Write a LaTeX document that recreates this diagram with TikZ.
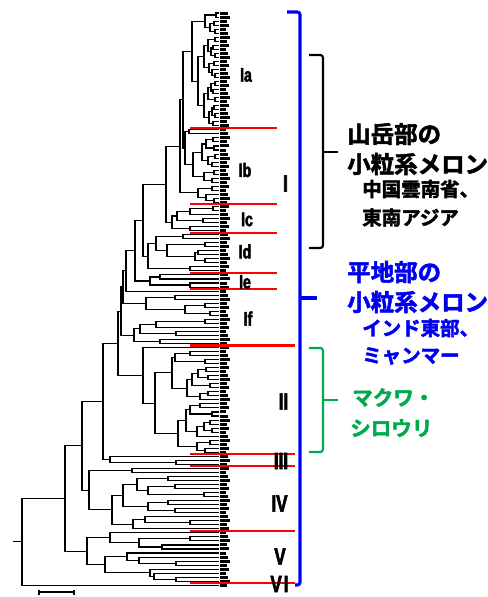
\documentclass[tikz,border=0pt]{standalone}
\usepackage{fontspec}
\usetikzlibrary{calc}
\newfontfamily\cjk{Noto Sans CJK JP}[BoldFont={Noto Sans CJK JP Bold}, BoldFeatures={FakeBold=2.2}]
\newfontfamily\romfont{Liberation Sans}[FakeStretch=0.72, BoldFeatures={FakeBold=2.5}]
\definecolor{grn}{RGB}{0,168,80}
\definecolor{blu}{RGB}{0,0,240}
\newcommand\dnode[4]{%
  \path let \p1=(#3), \p2=(#4) in ({#2*0.75pt},{0.5*\y1+0.5*\y2}) coordinate (#1);
  \draw[br] (#1) |- (#3);
  \draw[br] (#1) |- (#4);}
\tikzset{
  br/.style={line width=0.8pt, black},
  redline/.style={red, line width=1.6pt},
  roman/.style={font=\romfont\bfseries\fontsize{14.6}{15}\selectfont, inner sep=0pt},
  romanL/.style={font=\romfont\bfseries\fontsize{17.8}{18}\selectfont, inner sep=0pt},
  jpbig/.style={font=\cjk\bfseries\fontsize{17.6}{18}\selectfont, anchor=west, inner sep=0pt},
  jpsmall/.style={font=\cjk\bfseries\fontsize{14.6}{15}\selectfont, anchor=west, inner sep=0pt},
  jpgreen/.style={font=\cjk\bfseries\fontsize{15.4}{16}\selectfont, anchor=west, inner sep=0pt, text=grn},
  bracket/.style={line width=1.6pt, rounded corners=2pt},
}
\begin{document}
\begin{tikzpicture}[x=0.75pt,y=-0.75pt]
\useasboundingbox (0,0) rectangle (488,597);
% leaves
\foreach \i in {1,...,143}{
  \coordinate (L\i) at (219,{13+4.03*(\i-1)});
  \pgfmathsetmacro\w{6+mod(\i*7,5)}
  \fill ($(L\i)+(1,-1.5)$) rectangle ++(\w,3);
}
% ---- Ia
\dnode{a1}{216}{L1}{L2}
\dnode{a2a}{214}{L3}{L4}
\dnode{a2b}{215}{L5}{L6}
\dnode{a2}{210}{a2a}{a2b}
\dnode{a3}{205}{a1}{a2}
\dnode{b7}{215}{L7}{L8}
\dnode{b8}{213}{L9}{L10}
\dnode{b9}{215}{L11}{L12}
\dnode{b10}{211}{b8}{b9}
\dnode{c47}{208}{b7}{b10}
\dnode{b11}{214}{L13}{L14}
\dnode{b12}{215}{L16}{L17}
\dnode{b13}{212}{L15}{b12}
\dnode{c68}{209}{b11}{b13}
\dnode{n205a}{204}{c47}{c68}
\dnode{b14}{215}{L18}{L19}
\dnode{b15}{213}{L20}{L21}
\dnode{b16}{211}{b14}{b15}
\dnode{b17}{215}{L22}{L23}
\dnode{c90}{208}{b16}{b17}
\dnode{b18}{214}{L24}{L25}
\dnode{b19}{215}{L26}{L27}
\dnode{b20}{212}{b18}{b19}
\dnode{b21}{213}{L28}{L29}
\dnode{c118}{209}{b20}{b21}
\dnode{n205b}{204}{c90}{c118}
\dnode{n198}{198}{n205a}{n205b}
\dnode{Ia}{192}{a3}{n198}
% ---- Ib
\dnode{ib1}{189}{L30}{L31}
\dnode{ib2}{213}{L32}{L33}
\dnode{ib3}{214}{L34}{L35}
\dnode{ib4}{206}{ib2}{ib3}
\dnode{ib5}{215}{L36}{L37}
\dnode{ib6}{212}{L38}{L39}
\dnode{ib7}{208}{ib5}{ib6}
\dnode{ib8}{202}{ib4}{ib7}
\dnode{ib9}{214}{L40}{L41}
\dnode{ib10}{212}{L42}{L43}
\dnode{ib11}{204}{ib9}{ib10}
\dnode{ib12}{193}{ib8}{ib11}
\dnode{IbT}{185}{ib1}{ib12}
\dnode{ib13}{212}{L44}{L45}
\dnode{ib14}{214}{L47}{L48}
\dnode{ib15}{206}{L46}{ib14}
\dnode{IbB}{198}{ib13}{ib15}
\dnode{n183}{183}{Ia}{IbT}
\dnode{n180}{180}{n183}{IbB}
% ---- Ic
\dnode{ic1}{213}{L49}{L50}
\dnode{ic2}{190}{ic1}{L51}
\dnode{ic3}{203}{L52}{L53}
\dnode{ic4}{177}{ic2}{ic3}
\dnode{ic5}{190}{L54}{L55}
\dnode{Ic}{172}{ic4}{ic5}
\dnode{n170}{166}{n180}{Ic}
% ---- Id
\dnode{id1}{183}{L56}{L57}
\dnode{id2}{205}{L58}{L59}
\dnode{id3}{198}{L60}{L61}
\dnode{id4}{205}{L62}{L63}
\dnode{id5}{195}{id3}{id4}
\dnode{id6}{167}{id2}{id5}
\dnode{id7}{156}{id1}{id6}
\dnode{id8}{190}{L64}{L65}
\dnode{Id}{148}{id7}{id8}
\dnode{n155}{143}{n170}{Id}
% ---- Ie
\dnode{ie1}{160}{L66}{L67}
\dnode{ie2}{190}{L68}{L69}
\dnode{Ie}{150}{ie1}{ie2}
\dnode{n135}{135}{n155}{Ie}
% ---- If
\dnode{n126}{126}{n135}{L70}
\dnode{if1}{175}{L71}{L72}
\dnode{if2}{205}{L73}{L74}
\dnode{if3}{210}{L75}{L76}
\dnode{if4}{185}{if2}{if3}
\dnode{ifT}{146}{if1}{if4}
\dnode{n123}{123}{n126}{ifT}
\dnode{if5}{205}{L77}{L78}
\dnode{if6}{156}{if5}{L79}
\dnode{if7}{176}{L80}{L81}
\dnode{if8}{140}{if6}{if7}
\dnode{if9}{160}{L82}{L83}
\dnode{ifB}{134}{if8}{if9}
\dnode{n121}{121}{n123}{ifB}
% ---- II
\dnode{u1}{190}{L85}{L86}
\dnode{u2}{205}{L87}{L88}
\dnode{u3}{175}{u1}{u2}
\dnode{u4}{206}{L89}{L90}
\dnode{u5}{208}{L91}{L92}
\dnode{u6}{198}{u4}{u5}
\dnode{u7}{210}{L93}{L94}
\dnode{u8}{192}{u6}{u7}
\dnode{u9}{208}{L95}{L96}
\dnode{u10}{200}{u9}{L97}
\dnode{u11}{187}{u8}{u10}
\dnode{uU}{172}{u3}{u11}
\dnode{l1}{200}{L98}{L99}
\dnode{l2}{212}{L100}{L101}
\dnode{l3}{190}{l1}{l2}
\dnode{l4}{210}{L102}{L103}
\dnode{l5}{212}{L104}{L105}
\dnode{l6}{204}{l4}{l5}
\dnode{l7}{197}{l6}{L106}
\dnode{l8}{186}{l3}{l7}
\dnode{l9}{210}{L107}{L108}
\dnode{l10}{205}{L109}{L110}
\dnode{l11}{197}{l9}{l10}
\dnode{lL}{178}{l8}{l11}
\dnode{n155b}{155}{uU}{lL}
\dnode{II}{143}{L84}{n155b}
\dnode{n118}{118}{n121}{II}
% ---- III
\dnode{t1}{176}{L112}{L113}
\dnode{III}{110}{L111}{t1}
\dnode{n103}{103}{n118}{III}
% ---- IV
\dnode{i1}{132}{L114}{L115}
\dnode{i2}{168}{L116}{L117}
\dnode{i3}{175}{L118}{L119}
\dnode{i4}{204}{L120}{L121}
\dnode{i5}{148}{i3}{i4}
\dnode{i6}{137}{i2}{i5}
\dnode{i7}{168}{L122}{L123}
\dnode{i8}{175}{L124}{L125}
\dnode{i9}{148}{i7}{i8}
\dnode{i10}{123}{i6}{i9}
\dnode{i11}{190}{L127}{L128}
\dnode{i12}{145}{L126}{i11}
\dnode{i13}{133}{i12}{L129}
\dnode{i14}{112}{i10}{i13}
\dnode{IV}{89}{i1}{i14}
\dnode{n82}{82}{n103}{IV}
% ---- V
\dnode{v1}{190}{L131}{L132}
\dnode{v2}{162}{L133}{L134}
\dnode{v3}{139}{v1}{v2}
\dnode{v4}{110}{L130}{v3}
\dnode{v5}{176}{L137}{L138}
\dnode{v6}{139}{L136}{v5}
\dnode{v7}{127}{L135}{v6}
\dnode{v8}{176}{L141}{L142}
\dnode{v9}{154}{L140}{v8}
\dnode{v10}{150}{L139}{v9}
\dnode{v11}{105}{v7}{v10}
\dnode{V}{87}{v4}{v11}
\dnode{n65}{65}{n82}{V}
\dnode{root}{22}{n65}{L143}
\path (root) ++(-9,0) coordinate (stub);
\draw[br] (stub) -- (root);
% scale bar
\coordinate (sb1) at (39,592);
\coordinate (sb2) at (74,592);
\draw[br] (sb1) -- (sb2);
\draw[br] ($(sb1)+(0,-2.5)$) -- ($(sb1)+(0,2.5)$);
\draw[br] ($(sb2)+(0,-2.5)$) -- ($(sb2)+(0,2.5)$);
% red separators
\foreach \yy in {127.9,204.4,232.6,272.9,289.0}{\draw[redline] (190,\yy) -- (277,\yy);}
\foreach \yy in {345.5,454.3,466.4,530.9,583.3}{\draw[redline] (190,\yy) -- (295,\yy);}
% cluster labels
\node[roman] (lIa) at (246,75) {Ia};
\node[roman] (lIb) at (245,170) {Ib};
\node[roman] (lIc) at (247,219.5) {Ic};
\node[roman] (lId) at (245,251.5) {Id};
\node[roman] (lIe) at (245,282) {Ie};
\node[roman] (lIf) at (248,318.5) {If};
\node[romanL] (lI) at (285.5,183.5) {I};
\node[romanL] (lII) at (283.5,401.5) {II};
\node[romanL] (lIII) at (281,461) {III};
\node[romanL] (lIV) at (279.5,503.5) {IV};
\node[romanL] (lV) at (280,556.5) {V};
\node[romanL] (lVI) at (279.5,584) {V\kern1.5pt I};
% brackets
\draw[bracket, blu, line width=2.3pt] (287,12) -- (300,12) -- (300,585) -- (295,585);
\draw[blu, line width=2.3pt] (300,298) -- (317,298);
\draw[bracket, black] (309,55) -- (323,55) -- (323,248) -- (309,248);
\draw[black, line width=1.6pt] (323,152) -- (338,152);
\draw[bracket, grn] (309,348) -- (323,348) -- (323,452) -- (309,452);
\draw[grn, line width=1.6pt] (323,400) -- (338,400);
% texts
\node[jpbig] (t1) at (347,134) {山岳部の};
\node[jpbig] (t2) at (347,164) {小粒系メロン};
\node[jpsmall] (t3) at (362,189) {中国雲南省、};
\node[jpsmall] (t4) at (362,217.5) {東南アジア};
\node[jpbig, text=blu] (t5) at (347,272) {平地部の};
\node[jpbig, text=blu] (t6) at (347,302) {小粒系メロン};
\node[jpsmall, text=blu] (t7) at (362,328) {インド東部、};
\node[jpsmall, text=blu] (t8) at (362,356) {ミャンマー};
\node[jpgreen] (t9) at (352,397.5) {マクワ・};
\node[jpgreen] (t10) at (350,428) {シロウリ};
\end{tikzpicture}
\end{document}
